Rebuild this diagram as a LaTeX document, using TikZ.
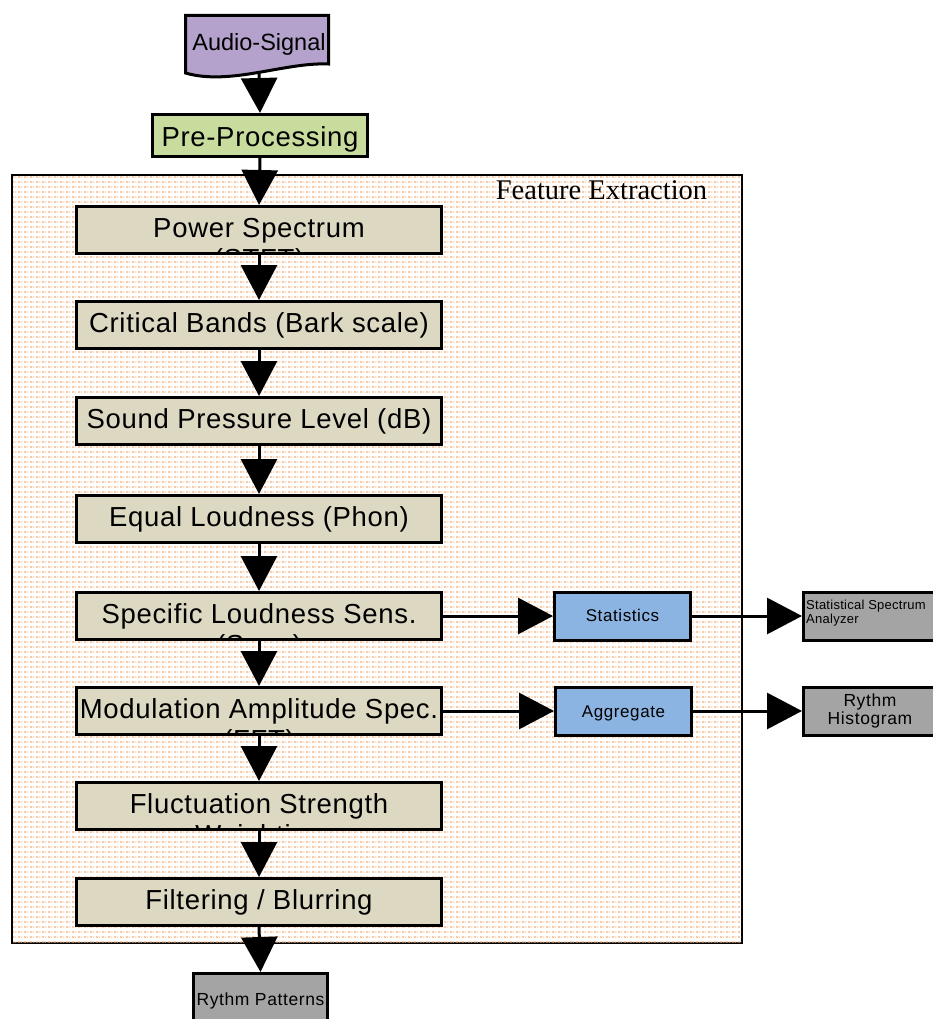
\documentclass[tikz,border=0pt]{standalone}
\usepackage{fontspec}
\setmainfont{Liberation Sans}
\newfontfamily\boxfont[LetterSpace=2.5]{Liberation Sans}
\newfontfamily\smallfont[LetterSpace=3.5]{Liberation Sans}
\newfontfamily\tinyfont[LetterSpace=2]{Liberation Sans}
\newfontfamily\titlefont{Liberation Serif}
\usetikzlibrary{arrows.meta,patterns.meta}
\definecolor{audiofill}{RGB}{180,162,204}
\definecolor{prefill}{RGB}{200,220,158}
\definecolor{procfill}{RGB}{220,216,194}
\definecolor{bluefill}{RGB}{140,180,226}
\definecolor{grayfill}{RGB}{164,164,164}
\definecolor{patorange}{RGB}{244,176,124}
\definecolor{patlight}{RGB}{250,206,170}
\tikzdeclarepattern{name=fepat, type=colored,
  bounding box={(0pt,0pt) and (6pt,5pt)}, tile size={(6pt,5pt)},
  code={\fill[patorange] (0pt,1.5pt) rectangle (2.2pt,3pt);
        \fill[patlight] (3pt,1.5pt) rectangle (5.2pt,3pt);}}
\newcommand\procnode[4]{%
  \node[procbox] (#1) at (259,#2+25) {};
  \begin{scope}
    \clip (78,#2+3) rectangle (440,#2+47);
    \node[proctext] at (259,#2+32) {#3};
    \node[proctext] at (259,#2+63) {#4};
  \end{scope}}
\begin{document}
\begin{tikzpicture}[x=1pt,y=-1pt,line join=miter,
  procbox/.style={draw, line width=3pt, fill=procfill, minimum width=365pt, minimum height=47pt, inner sep=0pt},
  proctext/.style={anchor=base, inner sep=0pt, font=\boxfont\fontsize{27.5}{31}\selectfont},
  arr/.style={line width=3pt, -{Triangle[length=35pt,width=36pt]}},
  bluebox/.style={draw, line width=3pt, fill=bluefill, minimum width=136pt, minimum height=48pt, inner sep=0pt, text depth=0pt, font=\smallfont\fontsize{17}{20}\selectfont},
  graybox/.style={draw, line width=3pt, fill=grayfill, minimum width=134pt, minimum height=48pt, inner sep=0pt},
  smalltext/.style={anchor=base, inner sep=0pt, font=\smallfont\fontsize{17.5}{20}\selectfont},
  tinytext/.style={anchor=base west, inner sep=0pt, font=\tinyfont\fontsize{13}{15}\selectfont}]
\useasboundingbox (0,0) rectangle (933,1019);
\clip (0,0) rectangle (933,1019);
\fill[white] (0,0) rectangle (933,1019);
% feature extraction frame
\node[draw, line width=2pt, fill=white, minimum width=730pt, minimum height=768pt, inner sep=0pt] (frame) at (377,559) {};
\fill[pattern=fepat] (13,176) rectangle (741,942);
\node[anchor=base, inner sep=0pt, font=\titlefont\fontsize{28.5}{30}\selectfont] (fetitle) at (601.5,200) {Feature Extraction};
% audio signal (document shape)
\filldraw[line width=3pt, fill=audiofill] (185.5,15.5) -- (328.5,15.5) -- (328.5,64)
  .. controls (285,62) and (230,86) .. (185.5,73) -- cycle;
\node[inner sep=0pt, minimum width=143pt, minimum height=57pt, font=\fontsize{23.5}{26}\selectfont] (audio) at (259,44) {Audio-Signal};
% pre-processing
\node[draw, line width=3pt, fill=prefill, minimum width=215pt, minimum height=42pt, inner sep=0pt,
  text height=23pt, text depth=0pt, font=\boxfont\fontsize{27.5}{31}\selectfont] (pre) at (260,135.5) {Pre-Processing};
% processing chain
\procnode{ps}{205}{Power Spectrum}{(STFT)}
\procnode{cb}{300}{Critical Bands (Bark scale)}{}
\procnode{spl}{396}{Sound Pressure Level (dB)}{}
\procnode{el}{494}{Equal Loudness (Phon)}{}
\procnode{sls}{591}{Specific Loudness Sens.}{(Sone)}
\procnode{mas}{686}{Modulation Amplitude Spec.}{(FFT)}
\procnode{fs}{781}{Fluctuation Strength}{Weighting}
\procnode{fb}{877}{Filtering / Blurring}{}
% side boxes
\node[bluebox, text height=11pt] (stat) at (622.5,616) {Statistics};
\node[bluebox, text height=12pt] (agg) at (623.5,711) {Aggregate};
\node[graybox] (ssa) at (870.5,616) {};
\node[tinytext] (ssat1) at (806,609) {Statistical Spectrum};
\node[tinytext] (ssat2) at (806,623) {Analyzer};
\node[graybox] (rh) at (870.5,711) {};
\node[smalltext] (rht1) at (870,706) {Rythm};
\node[smalltext] (rht2) at (870,724) {Histogram};
\node[graybox, text height=15pt, text depth=0pt, font=\smallfont\fontsize{17.5}{20}\selectfont] (rp) at (260.5,997.5) {Rythm Patterns};
% connectors
\draw[arr] (audio.south) -- (pre.north);
\draw[arr] (pre.south) -- (ps.north);
\draw[arr] (ps.south) -- (cb.north);
\draw[arr] (cb.south) -- (spl.north);
\draw[arr] (spl.south) -- (el.north);
\draw[arr] (el.south) -- (sls.north);
\draw[arr] (sls.south) -- (mas.north);
\draw[arr] (mas.south) -- (fs.north);
\draw[arr] (fs.south) -- (fb.north);
\draw[arr] (fb.south) -- (rp.north);
\draw[arr] (sls.east) -- (stat.west);
\draw[arr] (stat.east) -- (ssa.west);
\draw[arr] (mas.east) -- (agg.west);
\draw[arr] (agg.east) -- (rh.west);
\end{tikzpicture}
\end{document}
